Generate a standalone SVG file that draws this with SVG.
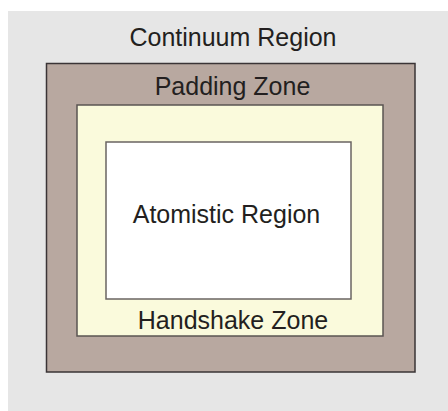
<svg xmlns="http://www.w3.org/2000/svg" width="448" height="411" viewBox="0 0 448 411">
<style>
text{font-family:"Liberation Sans",Arial,sans-serif;font-size:25px;fill:#231f20;text-anchor:middle}
.box{stroke-width:1.5}
</style>
<g id="continuum">
<rect x="8" y="11" width="440" height="400" fill="#e6e6e6"/>
<text x="233" y="46">Continuum Region</text>
</g>
<g id="padding">
<rect class="box" x="46.5" y="63.5" width="368.5" height="308.5" fill="#b8a8a0" stroke="#3a3436"/>
<text x="232.5" y="95">Padding Zone</text>
</g>
<g id="handshake">
<rect class="box" x="77" y="105" width="306" height="231" fill="#fafadc" stroke="#5a5452"/>
<text x="233" y="328.5">Handshake Zone</text>
</g>
<g id="atomistic">
<rect class="box" x="106" y="142" width="245" height="157" fill="#ffffff" stroke="#6a6462"/>
<text x="226.5" y="223.3">Atomistic Region</text>
</g>
<g id="connectors"/>
</svg>
